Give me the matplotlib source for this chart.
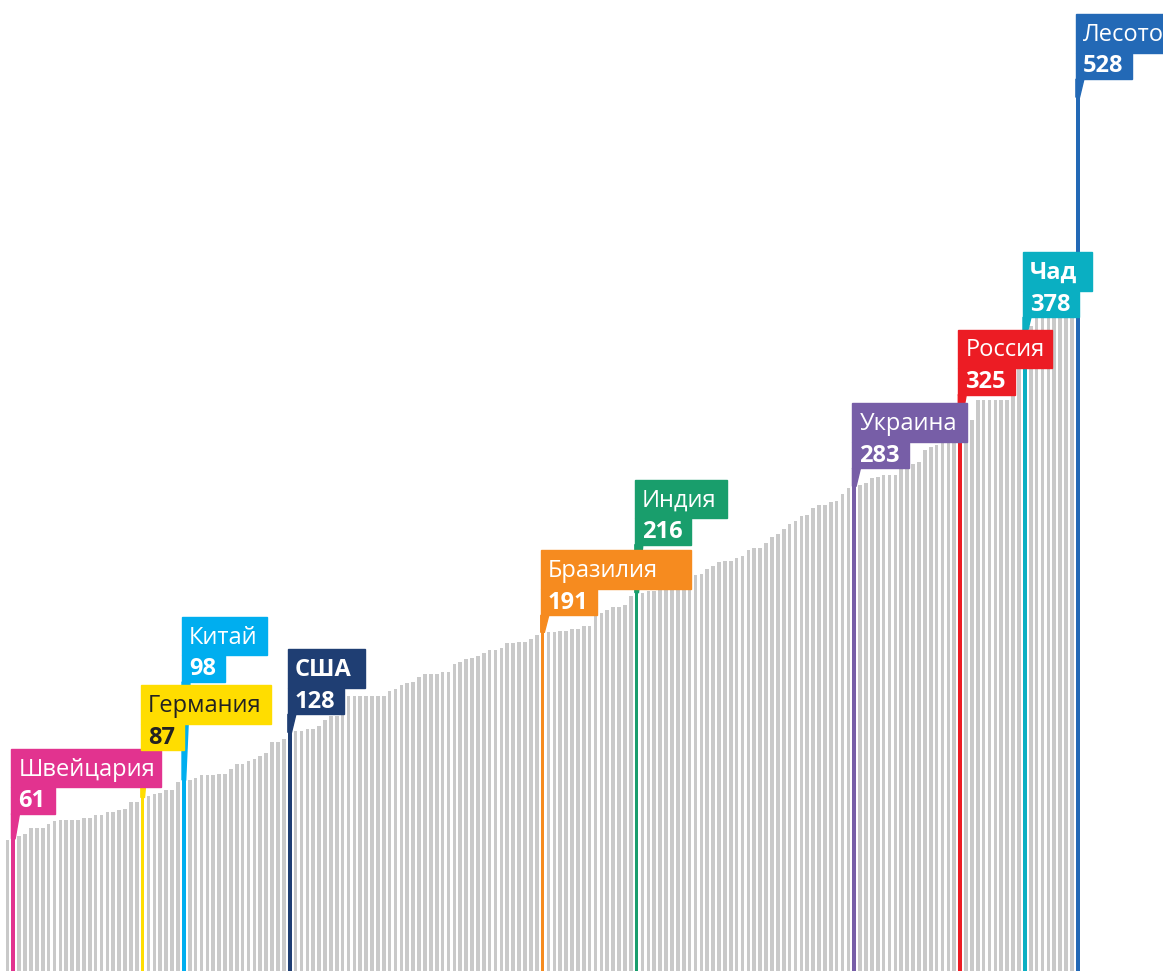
import matplotlib.pyplot as plt
from matplotlib.patches import Rectangle, Polygon

plt.rcParams['font.family'] = ['Open Sans', 'DejaVu Sans']

# sorted values, one bar per country
values = [
    60, 61, 63, 64, 68, 68, 68, 70, 72, 73,
    73, 73, 73, 74, 74, 76, 76, 78, 78, 79,
    80, 84, 84, 87, 88, 89, 90, 92, 92, 97,
    98, 98, 99, 101, 101, 101, 102, 102, 105, 108,
    108, 110, 111, 113, 115, 122, 122, 124, 128, 129,
    129, 130, 130, 132, 136, 138, 138, 140, 151, 151,
    151, 151, 151, 151, 151, 154, 155, 158, 159, 160,
    163, 165, 165, 165, 166, 166, 171, 172, 174, 175,
    176, 178, 180, 180, 181, 184, 184, 185, 185, 187,
    189, 191, 191, 191, 192, 192, 193, 193, 195, 195,
    201, 203, 205, 207, 207, 208, 214, 216, 216, 217,
    217, 218, 220, 220, 220, 220, 223, 227, 228, 231,
    233, 235, 236, 236, 238, 239, 243, 244, 244, 247,
    251, 253, 256, 259, 261, 264, 265, 269, 271, 271,
    273, 274, 278, 282, 283, 284, 285, 288, 289, 290,
    290, 290, 294, 296, 297, 298, 306, 308, 309, 310,
    310, 310, 325, 325, 325, 337, 337, 337, 337, 337,
    337, 345, 362, 378, 384, 389, 389, 389, 389, 389,
    389, 389, 528,
]

# highlighted countries: position in the sorted list
names = ['Швейцария', 'Германия', 'Китай', 'США', 'Бразилия',
         'Индия', 'Украина', 'Россия', 'Чад', 'Лесото']
positions = [1, 23, 30, 48, 91, 107, 144, 162, 173, 182]
colors = ['#e2338f', '#ffdd00', '#00aeef', '#1f3e73', '#f68b1f',
          '#199e6c', '#775ea7', '#ec1c24', '#0aafc2', '#2369b6']

# label layout (pixels)
lifts = [25, 47, 98, 18, 17, 48, 18, 25, 18, 18]
name_pad = [6, 10, 9, 13, 33, 11, 10, 7, 15, 10]
name_bold = [False, False, False, True, False, False, False, False, True, False]

fig = plt.figure(figsize=(11.63, 9.71), dpi=100)
ax = fig.add_axes([0, 0, 1, 1])
ax.axis('off')

bw = 0.62
bar_colors = ['#c9c9c9'] * len(values)
for p, c in zip(positions, colors):
    bar_colors[p] = c
x = list(range(len(values)))
ax.bar(x, [v + 30 for v in values], bottom=-30, width=bw, color=bar_colors, zorder=1)
ax.set_xlim(-1.26, 196.5)
ax.set_ylim(-22.3, 589.2)

renderer = fig.canvas.get_renderer()
row_val = 26.5
row_name = 38.5
for k, p in enumerate(positions):
    c = colors[k]
    tc = '#222222' if c == '#ffdd00' else 'white'
    xl, ytop = ax.transData.transform((p - bw / 2, values[p]))
    xr, _ = ax.transData.transform((p + bw / 2, values[p]))
    yb = ytop + lifts[k]

    t1 = fig.text(xl + 7, yb + row_val + 11.6, names[k], transform=None,
                  fontsize=17, color=tc, va='baseline', zorder=5,
                  fontweight='bold' if name_bold[k] else 'normal')
    t2 = fig.text(xl + 7, yb + 6.7, str(values[p]), transform=None,
                  fontsize=17, color=tc, va='baseline', fontweight='bold', zorder=5)
    w1 = t1.get_window_extent(renderer).width
    w2 = t2.get_window_extent(renderer).width

    fig.patches.append(Rectangle((xl, yb + row_val), w1 + 7 + name_pad[k], row_name,
                                 transform=None, color=c, zorder=4))
    fig.patches.append(Rectangle((xl, yb), w2 + 16, row_val,
                                 transform=None, color=c, zorder=4))
    # pointer from the box down to the bar top
    fig.patches.append(Polygon([(xl, yb), (xl + 8, yb), (xr, ytop), (xl, ytop)],
                               closed=True, transform=None, color=c, zorder=3))

fig.savefig('out.png', dpi=100)
